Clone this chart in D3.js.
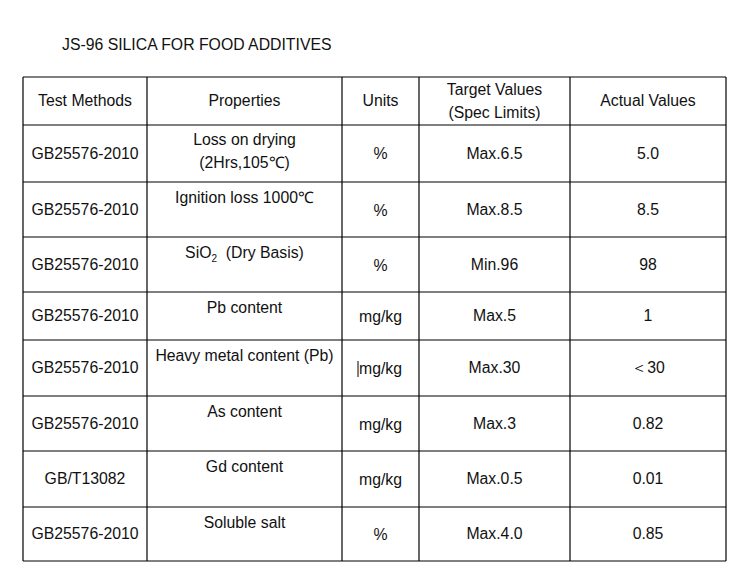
<!DOCTYPE html>
<html><head><meta charset="utf-8">
<script src="https://cdn.jsdelivr.net/npm/d3@7"></script>
<style>body{margin:0;background:#fff}text{font-family:"Liberation Sans",Arial,sans-serif;font-size:15.8px;fill:#111}</style>
</head><body><svg id="viz" width="735" height="576"></svg>
<script>
let title = "JS-96 SILICA FOR FOOD ADDITIVES";
let headers = ["Test Methods", "Properties", "Units", "Target Values\n(Spec Limits)", "Actual Values"];
let methods = ["GB25576-2010","GB25576-2010","GB25576-2010","GB25576-2010","GB25576-2010","GB25576-2010","GB/T13082","GB25576-2010"];
let properties = ["Loss on drying\n(2Hrs,105℃)","Ignition loss 1000℃","SiO2  (Dry Basis)","Pb content","Heavy metal content (Pb)","As content","Gd content","Soluble salt"];
let units = ["%","%","%","mg/kg","mg/kg","mg/kg","mg/kg","%"];
let targets = ["Max.6.5","Max.8.5","Min.96","Max.5","Max.30","Max.3","Max.0.5","Max.4.0"];
let actuals = ["5.0","8.5","98","1","＜30","0.82","0.01","0.85"];

let colEdges = [23, 147, 342, 419, 570, 726];
let rowEdges = [77, 125, 182, 237, 292, 340, 396, 451, 507, 561];

let svg = d3.select("#viz");
svg.append("text").attr("x", 62).attr("y", 50).attr("font-size", 16.4).text(title);

let g = svg.append("g").attr("stroke", "#000").attr("stroke-width", 1.2);
colEdges.forEach(x => g.append("line").attr("x1", x).attr("x2", x).attr("y1", rowEdges[0]).attr("y2", rowEdges[rowEdges.length-1]));
rowEdges.forEach(y => g.append("line").attr("x1", colEdges[0]).attr("x2", colEdges[colEdges.length-1]).attr("y1", y).attr("y2", y));

let cx = i => (colEdges[i] + colEdges[i+1]) / 2;
let cell = (col, cy, txt) => {
  let lines = txt.split("\n");
  lines.forEach((l, k) => {
    let t = svg.append("text").attr("x", cx(col)).attr("text-anchor", "middle")
      .attr("y", cy + (k - (lines.length-1)/2) * 23 + 5);
    if (l.startsWith("SiO2")) {
      t.append("tspan").text("SiO");
      t.append("tspan").attr("font-size", 10).attr("dy", 4).text("2");
      t.append("tspan").attr("dy", -4).text("\u00a0\u00a0" + l.slice(4).trim());
    } else t.text(l);
  });
};

headers.forEach((h, i) => cell(i, (rowEdges[0] + rowEdges[1]) / 2, h));
methods.forEach((d, r) => {
  let top = rowEdges[r+1], mid = (top + rowEdges[r+2]) / 2;
  cell(0, mid, d);
  cell(1, r === 0 ? mid - 2 : top + 16, properties[r]);
  cell(2, r === 0 ? mid : mid + 1, units[r]);
  cell(3, mid, targets[r]);
  cell(4, mid, actuals[r]);
});
// small cursor mark before mg/kg in heavy-metal row
svg.append("line").attr("stroke", "#000").attr("x1", 358).attr("x2", 358).attr("y1", 361).attr("y2", 377);
</script></body></html>
